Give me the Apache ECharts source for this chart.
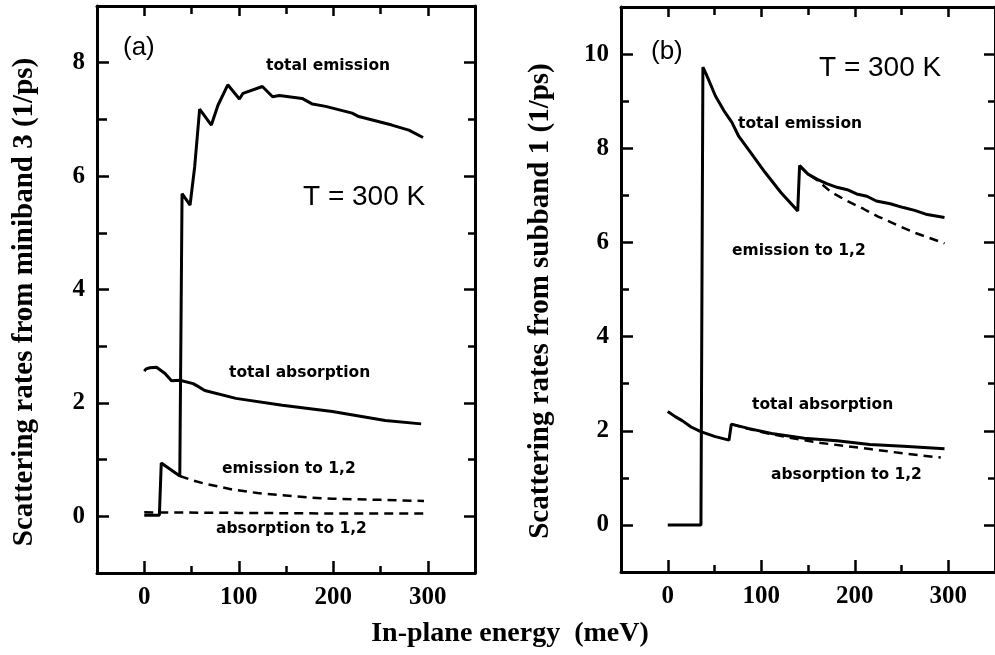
<!DOCTYPE html>
<html><head><meta charset="utf-8">
<script src="https://cdn.jsdelivr.net/npm/echarts@6/dist/echarts.min.js"></script>
<style>html,body{margin:0;padding:0;background:#fff}#c{width:995px;height:655px}</style>
</head><body><div id="c"></div>
<script>
// ---- tick labels ----
const xTicksMajor = [0, 100, 200, 300];
const xTicksMinor = [50, 150, 250];
const yTicksMajorA = [0, 2, 4, 6, 8];
const yTicksMinorA = [1, 3, 5, 7];
const yTicksMajorB = [0, 2, 4, 6, 8, 10];
const yTicksMinorB = [1, 3, 5, 7, 9];

// ---- panel (a): miniband 3 ----
const totEmA_x = [0, 16, 18, 37.6, 40, 48.5, 53.4, 58.6, 71, 78, 88.4, 100.7, 104.5, 125, 135.8, 143, 167, 178, 192, 220, 227, 262, 280, 295];
const totEmA_y = [0.02, 0.02, 0.94, 0.71, 5.69, 5.49, 6.17, 7.18, 6.90, 7.25, 7.61, 7.36, 7.46, 7.58, 7.40, 7.42, 7.37, 7.27, 7.23, 7.11, 7.05, 6.90, 6.81, 6.68];
const totAbA_x = [0, 2, 6, 13, 15, 22, 28.8, 37.6, 51.7, 56, 64, 97, 146, 199, 227, 255, 293];
const totAbA_y = [2.56, 2.60, 2.62, 2.63, 2.65, 2.52, 2.39, 2.40, 2.34, 2.30, 2.22, 2.08, 1.96, 1.85, 1.77, 1.69, 1.63];
const em12A_x = [37.6, 50, 65, 80, 94, 120, 146, 175, 199, 250, 296];
const em12A_y = [0.71, 0.64, 0.57, 0.52, 0.47, 0.41, 0.37, 0.33, 0.31, 0.29, 0.27];
const ab12A_x = [0, 100, 200, 296];
const ab12A_y = [0.07, 0.06, 0.05, 0.05];

// ---- panel (b): subband 1 ----
const totEmB_x = [0, 35.5, 37.6, 41, 51, 60, 68.6, 76, 86, 104, 121, 139, 141, 150, 160, 170, 181, 192, 202, 213, 223, 238, 252, 264, 276, 296];
const totEmB_y = [0, 0, 9.72, 9.58, 9.11, 8.80, 8.55, 8.25, 7.98, 7.49, 7.06, 6.67, 7.63, 7.45, 7.34, 7.25, 7.17, 7.12, 7.03, 6.98, 6.88, 6.82, 6.74, 6.68, 6.60, 6.53];
const em12B_x = [141, 150, 160, 174, 190, 209.5, 225, 245, 265, 296];
const em12B_y = [7.63, 7.45, 7.32, 7.08, 6.90, 6.71, 6.55, 6.37, 6.20, 5.98];
const totAbB_x = [0, 8, 15.8, 25, 35.3, 50, 65.5, 68, 86, 111, 146, 181, 216, 252, 296];
const totAbB_y = [2.41, 2.30, 2.21, 2.08, 1.98, 1.88, 1.80, 2.14, 2.05, 1.94, 1.84, 1.79, 1.71, 1.67, 1.62];
const ab12B_x = [68, 86, 105, 128.5, 164, 216.5, 252, 292];
const ab12B_y = [2.14, 2.04, 1.95, 1.86, 1.74, 1.61, 1.52, 1.43];

const pair = (xs, ys) => xs.map((x, i) => [x, ys[i]]);
const serif = 'Liberation Serif, Times New Roman, serif';
const sans = 'Liberation Sans, Arial, sans-serif';
const ann = 'DejaVu Sans, sans-serif';

const rectA = { left: 97, top: 6, width: 378, height: 567 };
const rectB = { left: 621, top: 7, width: 379, height: 565 };

const lineStyle = { color: '#000', width: 3 };
function xAx(grid, pos, ticks, len, showLine, labels) {
  return {
    type: 'value', gridIndex: grid, position: pos, min: -50, max: 350,
    axisLine: { show: showLine, onZero: false, lineStyle: lineStyle },
    axisTick: { show: true, inside: true, length: len, customValues: ticks, lineStyle: { color: '#000', width: 2.5 } },
    axisLabel: labels ? { show: true, customValues: ticks, margin: 12, color: '#000', fontFamily: serif, fontWeight: 'bold', fontSize: 25 } : { show: false },
    splitLine: { show: false }
  };
}
function yAx(grid, pos, min, max, ticks, len, showLine, labels) {
  return {
    type: 'value', gridIndex: grid, position: pos, min: min, max: max,
    axisLine: { show: showLine, onZero: false, lineStyle: lineStyle },
    axisTick: { show: true, inside: true, length: len, customValues: ticks, lineStyle: { color: '#000', width: 2.5 } },
    axisLabel: labels ? { show: true, customValues: ticks, margin: 12, color: '#000', fontFamily: serif, fontWeight: 'bold', fontSize: 25 } : { show: false },
    splitLine: { show: false }
  };
}

const grids = [rectA, rectA, rectB, rectB].map(r => Object.assign({ containLabel: false }, r));
const xAxes = [
  xAx(0, 'bottom', xTicksMajor, 12, true, true),
  xAx(0, 'top', xTicksMajor, 10, true, false),
  xAx(1, 'bottom', xTicksMinor, 7, false, false),
  xAx(1, 'top', xTicksMinor, 8, false, false),
  xAx(2, 'bottom', xTicksMajor, 12, true, true),
  xAx(2, 'top', xTicksMajor, 10, true, false),
  xAx(3, 'bottom', xTicksMinor, 7, false, false),
  xAx(3, 'top', xTicksMinor, 8, false, false)
];
const yAxes = [
  yAx(0, 'left', -1, 9, yTicksMajorA, 12, true, true),
  yAx(0, 'right', -1, 9, yTicksMajorA, 11, true, false),
  yAx(1, 'left', -1, 9, yTicksMinorA, 10, false, false),
  yAx(1, 'right', -1, 9, yTicksMinorA, 7, false, false),
  yAx(2, 'left', -1, 11, yTicksMajorB, 12, true, true),
  yAx(2, 'right', -1, 11, yTicksMajorB, 11, true, false),
  yAx(3, 'left', -1, 11, yTicksMinorB, 8, false, false),
  yAx(3, 'right', -1, 11, yTicksMinorB, 7, false, false)
];

function ser(name, xi, yi, data, dashed) {
  return {
    name: name, type: 'line', xAxisIndex: xi, yAxisIndex: yi, data: data,
    symbol: 'none', smooth: false, animation: false,
    lineStyle: dashed ? { color: '#000', width: 2.5, type: [9, 6] } : { color: '#000', width: 3 },
    z: dashed ? 2 : 3
  };
}
const series = [
  ser('total emission (a)', 0, 0, pair(totEmA_x, totEmA_y), false),
  ser('total absorption (a)', 0, 0, pair(totAbA_x, totAbA_y), false),
  ser('emission to 1,2 (a)', 0, 0, pair(em12A_x, em12A_y), true),
  ser('absorption to 1,2 (a)', 0, 0, pair(ab12A_x, ab12A_y), true),
  ser('total emission (b)', 4, 4, pair(totEmB_x, totEmB_y), false),
  ser('emission to 1,2 (b)', 4, 4, pair(em12B_x, em12B_y), true),
  ser('total absorption (b)', 4, 4, pair(totAbB_x, totAbB_y), false),
  ser('absorption to 1,2 (b)', 4, 4, pair(ab12B_x, ab12B_y), true)
];

function txt(t, x, y, font, size, weight, align) {
  return { type: 'text', x: x, y: y, z: 10, style: { text: t, fill: '#000', font: weight + ' ' + size + 'px ' + font, textAlign: align || 'left', textVerticalAlign: 'middle' } };
}
const graphic = [
  txt('(a)', 123, 48, sans, 26, 'normal'),
  txt('total emission', 266, 66, ann, 15.5, 'bold'),
  txt('T = 300 K', 303, 197, sans, 28, 'normal'),
  txt('total absorption', 229, 373, ann, 15.5, 'bold'),
  txt('emission to 1,2', 222, 469, ann, 15.5, 'bold'),
  txt('absorption to 1,2', 216, 529, ann, 15.5, 'bold'),
  txt('(b)', 651, 52, sans, 26, 'normal'),
  txt('T = 300 K', 819, 68, sans, 28, 'normal'),
  txt('total emission', 738, 124, ann, 15.5, 'bold'),
  txt('emission to 1,2', 732, 251, ann, 15.5, 'bold'),
  txt('total absorption', 752, 405, ann, 15.5, 'bold'),
  txt('absorption to 1,2', 771, 475, ann, 15.5, 'bold'),
  txt('In-plane energy  (meV)', 510, 634, serif, 28, 'bold', 'center'),
  { type: 'text', x: 25, y: 302, rotation: Math.PI / 2, z: 10,
    style: { text: 'Scattering rates from miniband 3 (1/ps)', fill: '#000', font: 'bold 29px ' + serif, textAlign: 'center', textVerticalAlign: 'middle' } },
  { type: 'text', x: 541, y: 301, rotation: Math.PI / 2, z: 10,
    style: { text: 'Scattering rates from subband 1 (1/ps)', fill: '#000', font: 'bold 29px ' + serif, textAlign: 'center', textVerticalAlign: 'middle' } }
];

const chart = echarts.init(document.getElementById('c'), null, { renderer: 'canvas' });
chart.setOption({
  backgroundColor: '#fff',
  animation: false,
  grid: grids,
  xAxis: xAxes,
  yAxis: yAxes,
  series: series,
  graphic: graphic
});
</script></body></html>
